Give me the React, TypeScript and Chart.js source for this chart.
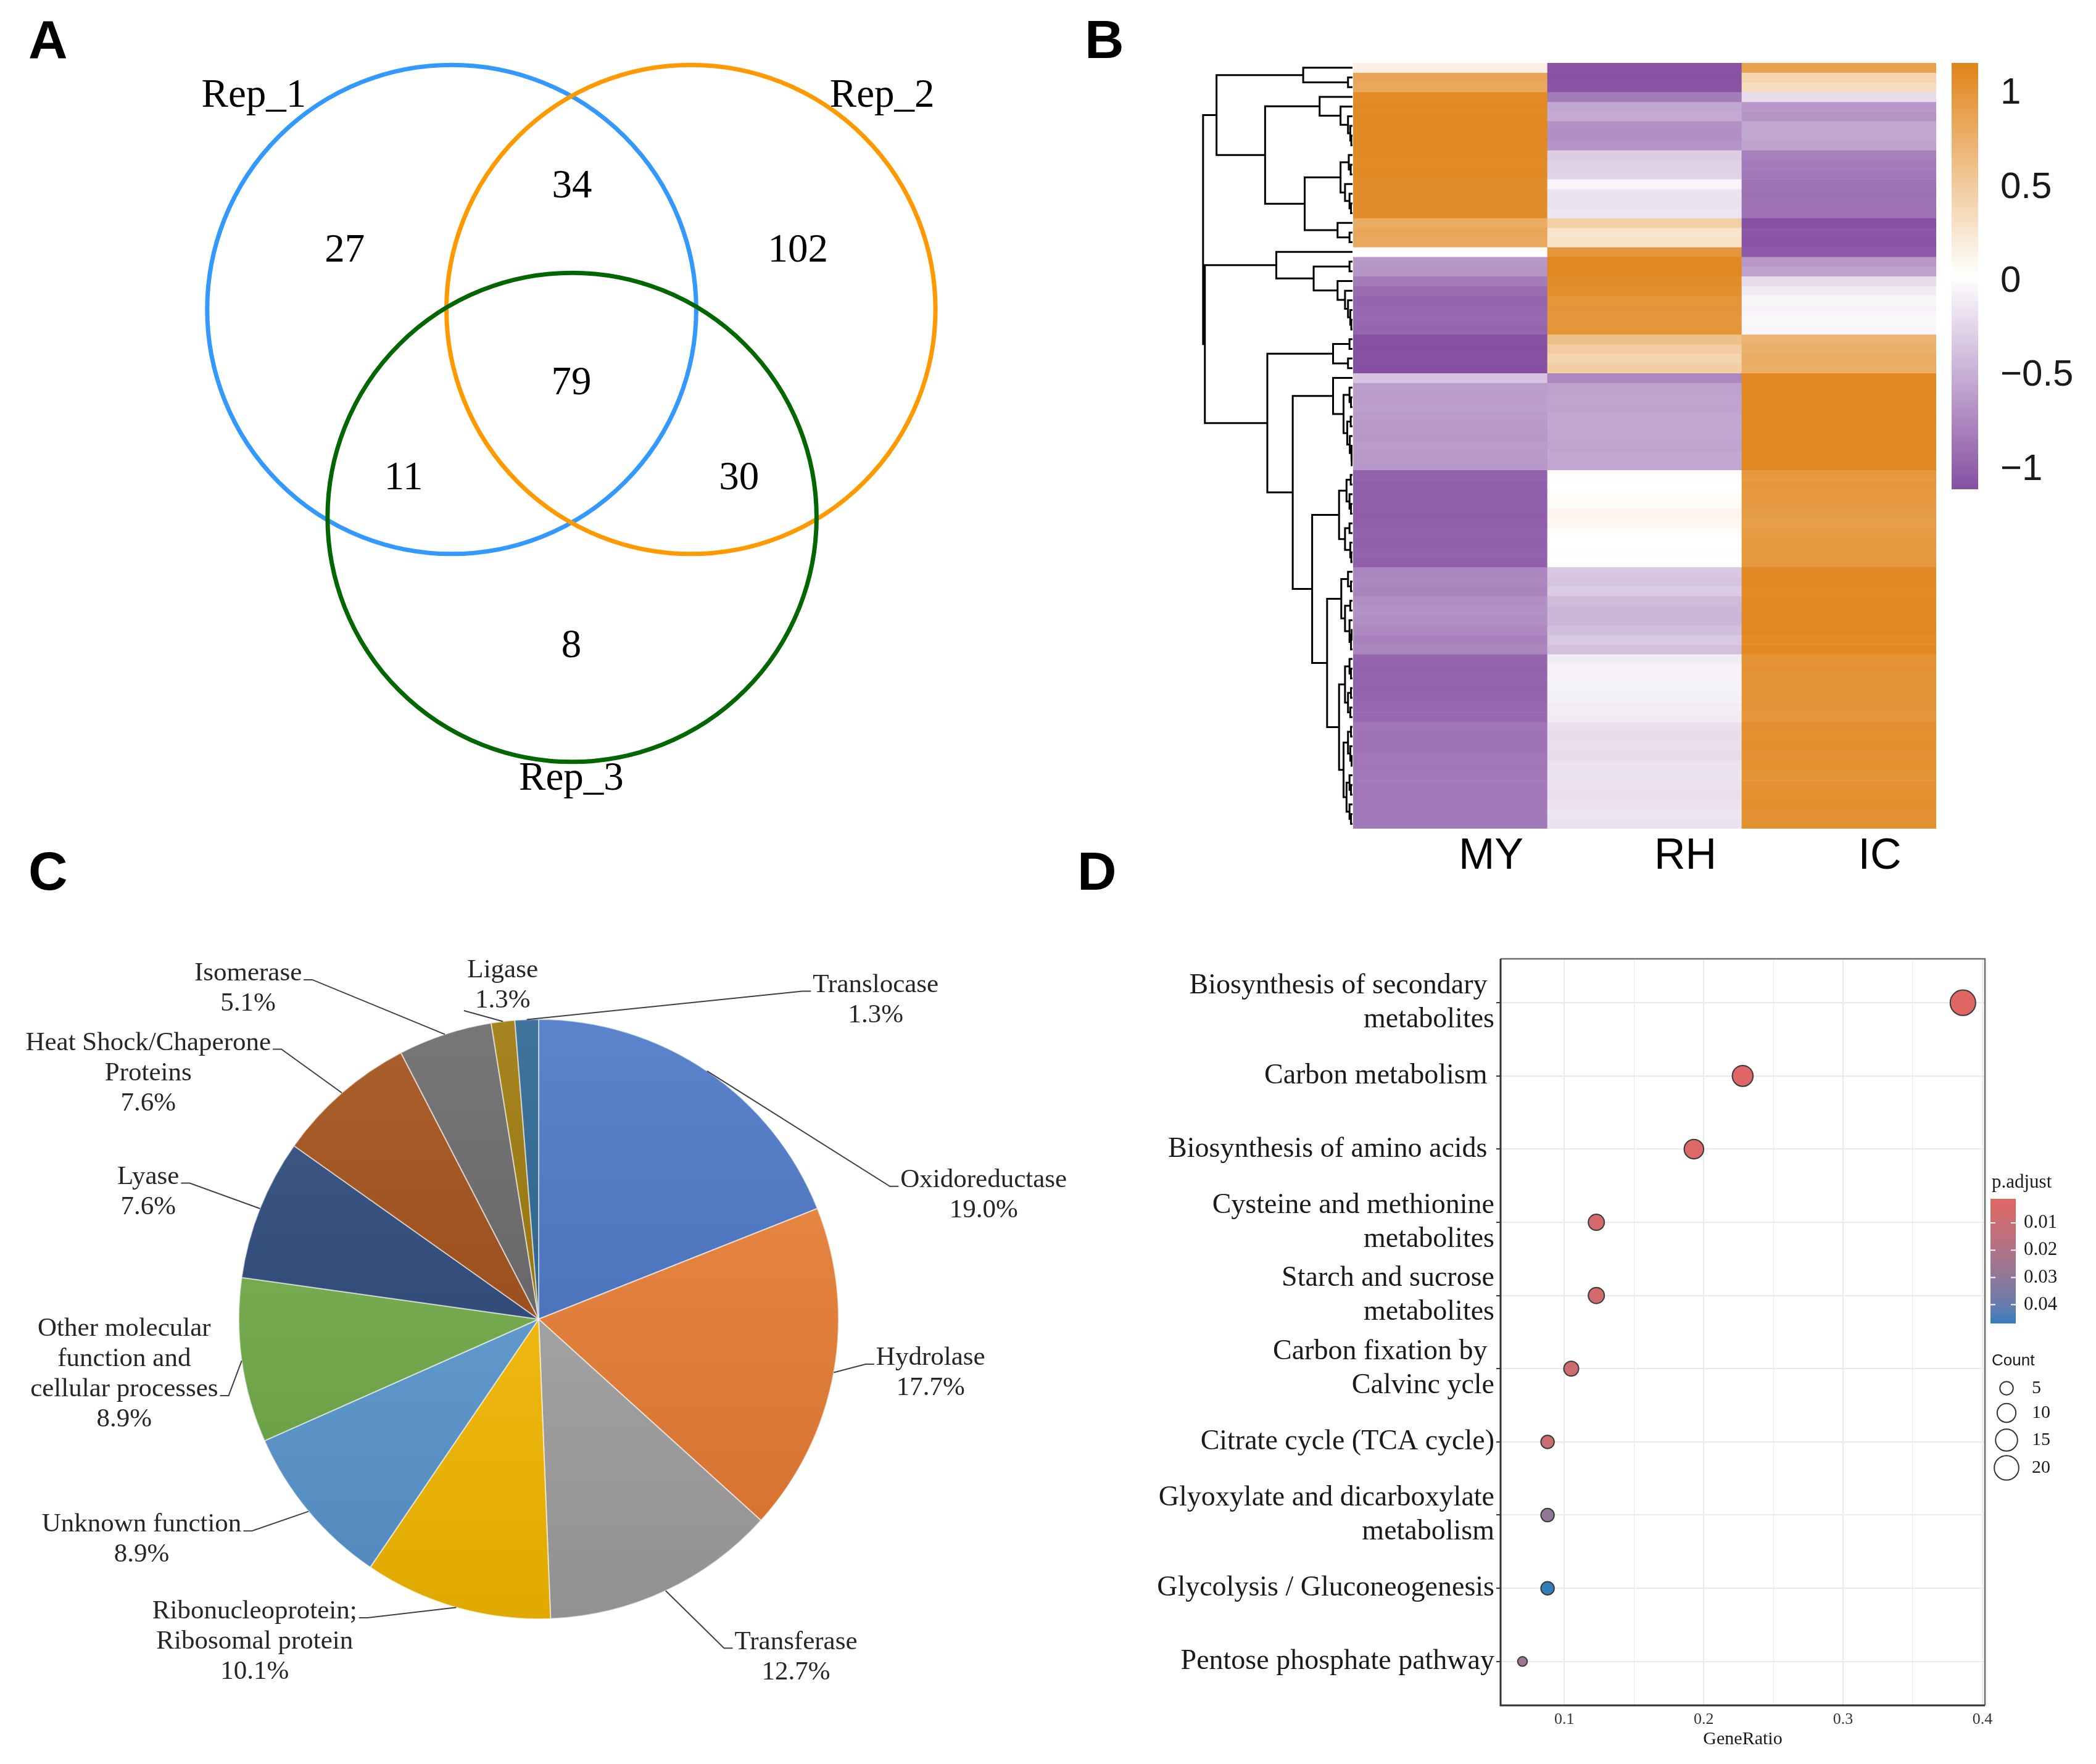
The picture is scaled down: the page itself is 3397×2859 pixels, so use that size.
import React, { useEffect, useRef } from 'react';
import { Chart, registerables } from 'chart.js';
Chart.register(...registerables);

const SERIF = '"Liberation Serif", "Times New Roman", serif';
const SANS = '"Liberation Sans", Arial, sans-serif';

// ---------------- Panel A: Venn ----------------
const vennSetNames = ['Rep_1', 'Rep_2', 'Rep_3'];
const vennCenterX = [-0.5, 0.5, 0.003];
const vennCenterY = [0, 0, -0.869];
const vennRadius = 1.022;
const vennRegionNames = ['Rep_1 only', 'Rep_1&Rep_2', 'Rep_2 only', 'All', 'Rep_1&Rep_3', 'Rep_2&Rep_3', 'Rep_3 only'];
const vennRegionCounts = [27, 34, 102, 79, 11, 30, 8];
// label layout (data units)
const vennRegionPos = [[-0.947, 0.243], [0.003, 0.511], [0.947, 0.243], [0, -0.31], [-0.701, -0.707], [0.701, -0.707], [0, -1.41]];
const vennSetLabelPos = [[-1.327, 0.891], [1.299, 0.891], [0, -1.963]];
const vennColors = ['#3399FF', '#FF9900', '#006600'];

// ---------------- Panel B: heatmap ----------------
const heatColumns = ['MY', 'RH', 'IC'];
const myValues = [
  0.17, 0.86, 0.83, 1.10, 1.12, 1.12, 1.13, 1.12, 1.11, 1.12,
  1.10, 1.11, 1.08, 1.09, 1.08, 1.09, 0.80, 0.85, 0.83, 0.02,
  -0.64, -0.66, -0.82, -0.92, -0.96, -0.95, -0.94, -0.96, -1.10, -1.12,
  -1.10, -1.11, -0.35, -0.60, -0.61, -0.60, -0.62, -0.63, -0.64, -0.62,
  -0.63, -0.64, -0.99, -1.00, -1.01, -1.00, -1.02, -1.01, -0.99, -1.00,
  -0.98, -1.00, -0.76, -0.74, -0.77, -0.70, -0.68, -0.70, -0.73, -0.78,
  -0.75, -0.96, -0.98, -0.97, -0.98, -0.96, -0.95, -0.95, -0.86, -0.87,
  -0.88, -0.85, -0.86, -0.84, -0.83, -0.85, -0.84, -0.83, -0.84,
];
const rhValues = [
  -1.08, -1.09, -1.08, -0.82, -0.55, -0.52, -0.69, -0.70, -0.67, -0.30,
  -0.27, -0.26, -0.04, -0.15, -0.16, -0.14, 0.47, 0.27, 0.30, 1.00,
  1.12, 1.13, 1.08, 1.06, 1.00, 1.01, 0.99, 1.00, 0.61, 0.50,
  0.42, 0.48, -0.74, -0.58, -0.56, -0.57, -0.55, -0.54, -0.55, -0.56,
  -0.54, -0.55, 0.05, 0.03, 0.04, 0.07, 0.12, 0.09, 0.05, 0.03,
  0.04, 0.03, -0.33, -0.36, -0.31, -0.42, -0.44, -0.45, -0.40, -0.33,
  -0.38, -0.10, -0.06, -0.05, -0.06, -0.07, -0.09, -0.10, -0.18, -0.19,
  -0.18, -0.20, -0.16, -0.15, -0.17, -0.18, -0.15, -0.14, -0.16,
];
const icValues = [
  0.90, 0.42, 0.35, -0.20, -0.64, -0.66, -0.55, -0.54, -0.57, -0.80,
  -0.82, -0.84, -0.88, -0.90, -0.88, -0.89, -1.10, -1.06, -1.08, -1.05,
  -0.64, -0.58, -0.20, -0.10, -0.03, -0.05, -0.02, -0.03, 0.72, 0.76,
  0.80, 0.78, 1.12, 1.13, 1.12, 1.12, 1.13, 1.12, 1.12, 1.13,
  1.12, 1.11, 0.98, 0.99, 0.98, 0.96, 0.93, 0.92, 0.95, 0.98,
  0.97, 0.98, 1.11, 1.12, 1.10, 1.12, 1.11, 1.12, 1.13, 1.10,
  1.12, 1.02, 1.04, 1.02, 1.03, 1.01, 1.02, 1.00, 1.06, 1.05,
  1.06, 1.04, 1.05, 1.03, 1.04, 1.05, 1.06, 1.04, 1.05,
];
const heatMin = -1.105;
const heatMax = 1.164;
const heatTicks = [-1, -0.5, 0, 0.5, 1];
type TreeNode = number | [number, TreeNode, TreeNode];
const dendroTree: TreeNode = [1.0,
  [0.91,
    [0.33, 0, [0.03, 1, 2]],
    [0.585,
      [0.22, 3, [0.08, 4, [0.03, 5, [0.015, 6, [0.008, 7, 8]]]]],
      [0.32,
        [0.08, [0.025, 9, [0.012, 10, 11]], [0.05, 12, [0.02, 13, [0.01, 14, 15]]]],
        [0.1, 16, [0.02, 17, 18]]]]],
  [0.988,
    [0.51, 19, [0.26, [0.02, 20, 21], [0.1, 22, [0.05, 23, [0.03, 24, [0.015, 25, [0.008, 26, 27]]]]]]],
    [0.57,
      [0.13, [0.02, 28, 29], [0.03, 30, 31]],
      [0.4,
        [0.13, 32, [0.06, [0.02, 33, [0.01, 34, 35]], [0.035, [0.012, 36, 37], [0.018, 38, [0.008, 39, [0.005, 40, 41]]]]]],
        [0.27,
          [0.09, [0.04, [0.012, 42, 43], [0.02, 44, [0.01, 45, 46]]], [0.05, [0.02, 47, 48], [0.015, 49, [0.008, 50, 51]]]],
          [0.17,
            [0.075, [0.03, 52, [0.01, 53, 54]], [0.05, [0.015, 55, 56], [0.02, 57, [0.01, [0.005, 58, 59], 60]]]],
            [0.09,
              [0.05, [0.02, 61, [0.01, 62, 63]], [0.03, [0.01, 64, 65], [0.015, 66, 67]]],
              [0.06, [0.03, [0.01, 68, 69], [0.015, 70, [0.006, 71, 72]]], [0.04, [0.02, 73, [0.01, 74, 75]], [0.02, 76, [0.01, 77, 78]]]]]]]]]]];

// ---------------- Panel C: pie ----------------
const pieCategories = [
  'Oxidoreductase', 'Hydrolase', 'Transferase', 'Ribonucleoprotein;\nRibosomal protein', 'Unknown function',
  'Other molecular\nfunction and\ncellular processes', 'Lyase', 'Heat Shock/Chaperone\nProteins', 'Isomerase', 'Ligase', 'Translocase',
];
const pieCounts = [15, 14, 10, 8, 7, 7, 6, 6, 4, 1, 1];
const pieColors = ['#4472C4', '#ED7D31', '#A5A5A5', '#FFC000', '#5B9BD5', '#70AD47', '#264478', '#9E480E', '#636363', '#997300', '#255E91'];
// label layout: [x, y] of label centre in pie radii, index of line the leader attaches to
const pieLabelLayout = [
  [1.484, -0.413, 0], [1.307, 0.18, 0], [0.858, 1.127, 0], [-0.947, 1.076, 0], [-1.324, 0.736, 0],
  [-1.382, 0.184, 2], [-1.302, -0.424, 0], [-1.302, -0.82, 0], [-0.969, -1.102, 0], [-0.12, -1.113, 1], [1.124, -1.064, 0],
];

// ---------------- Panel D: enrichment dot plot ----------------
const pathwayLabels: (string | string[])[] = [
  ['Biosynthesis of secondary ', 'metabolites'],
  'Carbon metabolism ',
  'Biosynthesis of amino acids ',
  ['Cysteine and methionine', 'metabolites'],
  ['Starch and sucrose', 'metabolites'],
  ['Carbon fixation by ', 'Calvinc ycle'],
  'Citrate cycle (TCA cycle)',
  ['Glyoxylate and dicarboxylate', 'metabolism'],
  'Glycolysis / Gluconeogenesis',
  'Pentose phosphate pathway',
];
const geneRatio = [0.386, 0.228, 0.193, 0.123, 0.123, 0.105, 0.088, 0.088, 0.088, 0.070];
const geneCount = [22, 13, 11, 7, 7, 6, 5, 5, 5, 4];
const pAdjust = [0.0012, 0.0016, 0.003, 0.006, 0.0065, 0.008, 0.01, 0.029, 0.0469, 0.026];
const pAdjustMin = 0.00115;
const pAdjustMax = 0.0469;
const pAdjustTicks = [0.01, 0.02, 0.03, 0.04];
const countLegend = [5, 10, 15, 20];
const xGridValues = [0.1, 0.15, 0.2, 0.25, 0.3, 0.35, 0.4];

// ---------------- helpers ----------------
type RGB = [number, number, number];
function hex(h: string): RGB {
  const n = parseInt(h.slice(1), 16);
  return [(n >> 16) & 255, (n >> 8) & 255, n & 255];
}
function mix(a: RGB, b: RGB, t: number): RGB {
  return [a[0] + (b[0] - a[0]) * t, a[1] + (b[1] - a[1]) * t, a[2] + (b[2] - a[2]) * t];
}
function css(c: RGB): string {
  return `rgb(${Math.round(c[0])},${Math.round(c[1])},${Math.round(c[2])})`;
}
const heatLow: RGB = [134, 80, 162];
const heatHigh: RGB = [224, 132, 26];
const WHITE: RGB = [255, 255, 255];
function heatColor(v: number): string {
  const mid = (heatMin + heatMax) / 2;
  if (v <= mid) return css(mix(heatLow, WHITE, Math.max(0, (v - heatMin) / (mid - heatMin))));
  return css(mix(WHITE, heatHigh, Math.min(1, (v - mid) / (heatMax - mid))));
}
function toLin(c: number) { c /= 255; return c <= 0.04045 ? c / 12.92 : Math.pow((c + 0.055) / 1.055, 2.4); }
function fromLin(c: number) { const v = c <= 0.0031308 ? 12.92 * c : 1.055 * Math.pow(c, 1 / 2.4) - 0.055; return Math.max(0, Math.min(255, v * 255)); }
function rgbToLab(c: RGB): RGB {
  const R = toLin(c[0]), G = toLin(c[1]), B = toLin(c[2]);
  const X = (0.4124 * R + 0.3576 * G + 0.1805 * B) / 0.95047;
  const Y = 0.2126 * R + 0.7152 * G + 0.0722 * B;
  const Z = (0.0193 * R + 0.1192 * G + 0.9505 * B) / 1.08883;
  const f = (t: number) => (t > 0.008856 ? Math.cbrt(t) : 7.787 * t + 16 / 116);
  const fx = f(X), fy = f(Y), fz = f(Z);
  return [116 * fy - 16, 500 * (fx - fy), 200 * (fy - fz)];
}
function labToRgb(l: RGB): RGB {
  const fy = (l[0] + 16) / 116, fx = fy + l[1] / 500, fz = fy - l[2] / 200;
  const fi = (t: number) => (t * t * t > 0.008856 ? t * t * t : (t - 16 / 116) / 7.787);
  const X = fi(fx) * 0.95047, Y = fi(fy), Z = fi(fz) * 1.08883;
  return [
    fromLin(3.2406 * X - 1.5372 * Y - 0.4986 * Z),
    fromLin(-0.9689 * X + 1.8758 * Y + 0.0415 * Z),
    fromLin(0.0557 * X - 0.204 * Y + 1.057 * Z),
  ];
}
const pLowLab = rgbToLab(hex('#e06663'));
const pHighLab = rgbToLab(hex('#327eba'));
function pColor(p: number): string {
  const t = Math.max(0, Math.min(1, (p - pAdjustMin) / (pAdjustMax - pAdjustMin)));
  return css(labToRgb(mix(pLowLab, pHighLab, t)));
}
const DOT_RMAX = 20.6;
function dotRadius(count: number): number {
  const lo = Math.min(...geneCount), hi = Math.max(...geneCount);
  const t = Math.max(0, (count - lo) / (hi - lo));
  return (DOT_RMAX * (3 + 5 * Math.sqrt(t))) / 8;
}
function buildDendro(node: TreeNode, pts: { x: number; y: number }[]): { y: number; h: number } {
  if (typeof node === 'number') return { y: node, h: 0 };
  const [h, a, b] = node;
  const L = buildDendro(a, pts);
  const R = buildDendro(b, pts);
  pts.push({ x: L.h, y: L.y }, { x: h, y: L.y }, { x: h, y: R.y }, { x: R.h, y: R.y }, { x: NaN, y: NaN });
  return { y: (L.y + R.y) / 2, h };
}

const base: any = {
  responsive: false,
  animation: false,
  devicePixelRatio: 1,
  events: [],
  plugins: { legend: { display: false }, tooltip: { enabled: false }, title: { display: false } },
};

// ---------------- plugins ----------------
const vennTextPlugin = {
  id: 'vennText',
  afterDatasetsDraw(chart: any) {
    const { ctx, scales } = chart;
    ctx.save();
    ctx.fillStyle = '#000';
    ctx.font = `65px ${SERIF}`;
    ctx.textAlign = 'center';
    ctx.textBaseline = 'middle';
    vennRegionCounts.forEach((n, i) => {
      ctx.fillText(String(n), scales.x.getPixelForValue(vennRegionPos[i][0]), scales.y.getPixelForValue(vennRegionPos[i][1]));
    });
    vennSetNames.forEach((n, i) => {
      ctx.fillText(n, scales.x.getPixelForValue(vennSetLabelPos[i][0]), scales.y.getPixelForValue(vennSetLabelPos[i][1]));
    });
    ctx.restore();
  },
};

const pieLabelPlugin = {
  id: 'pieLabels',
  afterDatasetsDraw(chart: any) {
    const { ctx } = chart;
    const meta = chart.getDatasetMeta(0);
    const total = pieCounts.reduce((s, v) => s + v, 0);
    const lh = 49;
    ctx.save();
    ctx.font = `43px ${SERIF}`;
    ctx.fillStyle = '#262626';
    ctx.strokeStyle = '#404040';
    ctx.lineWidth = 2;
    ctx.textAlign = 'center';
    ctx.textBaseline = 'middle';
    meta.data.forEach((arc: any, i: number) => {
      const p = arc.getProps(['x', 'y', 'startAngle', 'endAngle', 'outerRadius'], true);
      const mid = (p.startAngle + p.endAngle) / 2;
      const px = p.x + Math.cos(mid) * p.outerRadius;
      const py = p.y + Math.sin(mid) * p.outerRadius;
      const lines = [...pieCategories[i].split('\n'), ((pieCounts[i] / total) * 100).toFixed(1) + '%'];
      const [lx, ly, attach] = pieLabelLayout[i];
      const cx = p.x + lx * p.outerRadius;
      const cy = p.y + ly * p.outerRadius;
      const top = cy - (lines.length * lh) / 2;
      const bottom = top + lines.length * lh;
      lines.forEach((l, k) => ctx.fillText(l, cx, top + lh * (k + 0.5)));
      const w = ctx.measureText(lines[attach]).width;
      const yAttach = top + lh * (attach + 0.5) + 10;
      ctx.beginPath();
      if (px < cx - w / 2) {
        const qx = cx - w / 2 - 3;
        ctx.moveTo(qx, yAttach);
        ctx.lineTo(qx - 14, yAttach);
        ctx.lineTo(px, py);
      } else if (px > cx + w / 2) {
        const qx = cx + w / 2 + 3;
        ctx.moveTo(qx, yAttach);
        ctx.lineTo(qx + 14, yAttach);
        ctx.lineTo(px, py);
      } else if (py > bottom) {
        ctx.moveTo(cx - w / 2 - 18, bottom - 8);
        ctx.lineTo(px, py);
      } else {
        ctx.moveTo(px, top);
        ctx.lineTo(px, py);
      }
      ctx.stroke();
    });
    ctx.restore();
  },
};

const dotFramePlugin = {
  id: 'dotFrame',
  beforeDatasetsDraw(chart: any) {
    const { ctx, chartArea: a } = chart;
    ctx.save();
    ctx.strokeStyle = '#6e6e6e';
    ctx.lineWidth = 2.5;
    ctx.beginPath();
    ctx.moveTo(a.left, a.top);
    ctx.lineTo(a.right, a.top);
    ctx.lineTo(a.right, a.bottom);
    ctx.stroke();
    ctx.strokeStyle = '#333';
    ctx.lineWidth = 3;
    ctx.beginPath();
    ctx.moveTo(a.left, a.top);
    ctx.lineTo(a.left, a.bottom);
    ctx.lineTo(a.right, a.bottom);
    ctx.stroke();
    ctx.restore();
  },
  afterDraw(chart: any) {
    const { ctx, chartArea: a } = chart;
    const L = a.right + 11;
    const T = a.top;
    ctx.save();
    ctx.textAlign = 'left';
    ctx.textBaseline = 'middle';
    ctx.fillStyle = '#1a1a1a';
    ctx.font = `31px ${SERIF}`;
    ctx.fillText('p.adjust', L, T + 363);
    const bt = T + 389, bb = T + 591, bx = L - 2, bw = 41;
    const g = ctx.createLinearGradient(0, bt, 0, bb);
    for (let k = 0; k <= 12; k++) {
      g.addColorStop(k / 12, pColor(pAdjustMin + ((pAdjustMax - pAdjustMin) * k) / 12));
    }
    ctx.fillStyle = g;
    ctx.fillRect(bx, bt, bw, bb - bt);
    ctx.strokeStyle = '#ffffff';
    ctx.lineWidth = 2;
    ctx.fillStyle = '#1a1a1a';
    pAdjustTicks.forEach((pv) => {
      const yy = bt + ((pv - pAdjustMin) / (pAdjustMax - pAdjustMin)) * (bb - bt);
      ctx.beginPath();
      ctx.moveTo(bx, yy); ctx.lineTo(bx + 8, yy);
      ctx.moveTo(bx + bw - 8, yy); ctx.lineTo(bx + bw, yy);
      ctx.stroke();
      ctx.fillText(String(pv), L + 52, yy);
    });
    ctx.font = `26px ${SANS}`;
    ctx.fillText('Count', L, T + 652);
    const cys = [T + 696, T + 736, T + 780, T + 825];
    countLegend.forEach((c, k) => {
      ctx.beginPath();
      ctx.strokeStyle = '#333';
      ctx.lineWidth = 2;
      ctx.arc(L + 24, cys[k], dotRadius(c), 0, Math.PI * 2);
      ctx.stroke();
      ctx.font = `30px ${SERIF}`;
      ctx.fillText(String(c), L + 65, cys[k]);
    });
    ctx.restore();
  },
};

function Letter({ ch, left, top }: { ch: string; left: number; top: number }) {
  return (
    <div style={{ position: 'absolute', left, top, font: `bold 88px ${SANS}`, lineHeight: '88px', color: '#000' }}>{ch}</div>
  );
}

export default function App() {
  const refA = useRef<HTMLCanvasElement>(null);
  const refDen = useRef<HTMLCanvasElement>(null);
  const refHeat = useRef<HTMLCanvasElement>(null);
  const refBar = useRef<HTMLCanvasElement>(null);
  const refPie = useRef<HTMLCanvasElement>(null);
  const refDot = useRef<HTMLCanvasElement>(null);

  useEffect(() => {
    Chart.defaults.font.family = SANS;
    const charts: Chart[] = [];

    // A: Venn
    charts.push(new Chart(refA.current!, {
      type: 'scatter',
      data: {
        datasets: [{
          data: vennCenterX.map((x, i) => ({ x, y: vennCenterY[i] })),
          pointRadius: (c: any) => {
            const s = c.chart.scales.x;
            return s ? Math.abs(s.getPixelForValue(vennRadius) - s.getPixelForValue(0)) : 0;
          },
          pointBackgroundColor: 'rgba(0,0,0,0)',
          pointBorderColor: vennColors,
          pointBorderWidth: 7,
        }],
      },
      options: {
        ...base,
        layout: { padding: 0 },
        clip: false,
        scales: {
          x: { type: 'linear', display: false, min: -2.388, max: 2.151 },
          y: { type: 'linear', display: false, min: -2.136, max: 1.293 },
        },
      } as any,
      plugins: [vennTextPlugin],
    }));

    // B: dendrogram
    const pts: { x: number; y: number }[] = [];
    buildDendro(dendroTree, pts);
    charts.push(new Chart(refDen.current!, {
      type: 'scatter',
      data: {
        datasets: [{
          data: pts,
          showLine: true,
          spanGaps: false,
          pointRadius: 0,
          borderColor: '#000',
          borderWidth: 3,
          borderCapStyle: 'square',
          borderJoinStyle: 'miter',
        }],
      },
      options: {
        ...base,
        layout: { padding: 0 },
        clip: false,
        scales: {
          x: { type: 'linear', display: false, min: 0, max: 1.02, reverse: true },
          y: { type: 'linear', display: false, min: -0.5, max: myValues.length - 0.5, reverse: true },
        },
      } as any,
    }));

    // B: heatmap
    charts.push(new Chart(refHeat.current!, {
      type: 'bar',
      data: {
        labels: heatColumns,
        datasets: myValues.map((_, i) => ({
          label: `row ${i + 1}`,
          data: heatColumns.map(() => 1),
          backgroundColor: [heatColor(myValues[i]), heatColor(rhValues[i]), heatColor(icValues[i])],
          borderWidth: 0,
          barPercentage: 1,
          categoryPercentage: 1,
        })),
      },
      options: {
        ...base,
        layout: { padding: 0 },
        scales: {
          x: {
            stacked: true,
            grid: { display: false, drawTicks: false },
            border: { display: false },
            ticks: { color: '#000', font: { family: SANS, size: 70 }, padding: 4, labelOffset: 66, maxRotation: 0 },
            afterFit: (s: any) => { s.height = 100; },
          },
          y: { stacked: true, display: false, min: 0, max: myValues.length, reverse: true },
        },
      } as any,
    }));

    // B: colour key
    charts.push(new Chart(refBar.current!, {
      type: 'bar',
      data: {
        labels: [''],
        datasets: [{
          data: [[heatMin, heatMax]],
          barPercentage: 1,
          categoryPercentage: 1,
          borderWidth: 0,
          backgroundColor: (c: any) => {
            const ch = c.chart;
            const ys = ch.scales.y;
            if (!ys || !ch.chartArea) return '#fff';
            const y0 = ys.getPixelForValue(heatMax), y1 = ys.getPixelForValue(heatMin);
            const g = ch.ctx.createLinearGradient(0, y0, 0, y1);
            for (let k = 0; k <= 24; k++) g.addColorStop(k / 24, heatColor(heatMax - ((heatMax - heatMin) * k) / 24));
            return g;
          },
        }],
      },
      options: {
        ...base,
        layout: { padding: { top: 80, bottom: 80, left: 0, right: 0 } },
        scales: {
          x: { display: false },
          y: {
            position: 'right',
            min: heatMin,
            max: heatMax,
            grid: { display: false, drawTicks: false },
            border: { display: false },
            afterBuildTicks: (s: any) => { s.ticks = heatTicks.map((v) => ({ value: v })); },
            ticks: {
              color: '#1a1a1a',
              font: { family: SANS, size: 60 },
              padding: 36,
              callback: (v: any) => (v < 0 ? '\u2212' + Math.abs(v) : String(v)),
            },
            afterFit: (s: any) => { s.width = 191; },
          },
        },
      } as any,
    }));

    // C: pie
    charts.push(new Chart(refPie.current!, {
      type: 'pie',
      data: {
        labels: pieCategories.map((c) => c.replace(/\n/g, ' ')),
        datasets: [{
          data: pieCounts,
          borderColor: 'rgba(255,255,255,0.55)',
          borderWidth: 2,
          backgroundColor: (c: any) => {
            const ch = c.chart;
            const a = ch.chartArea;
            const col = hex(pieColors[c.dataIndex] || '#888888');
            if (!a) return css(col);
            const g = ch.ctx.createLinearGradient(0, a.top, 0, a.bottom);
            g.addColorStop(0, css(mix(col, WHITE, 0.13)));
            g.addColorStop(1, css(mix(col, [0, 0, 0], 0.12)));
            return g;
          },
        }],
      },
      options: {
        ...base,
        layout: { padding: { left: 386, top: 171, right: 400, bottom: 185 } },
      } as any,
      plugins: [pieLabelPlugin],
    }));

    // D: dot plot
    charts.push(new Chart(refDot.current!, {
      type: 'scatter',
      data: {
        datasets: [{
          data: geneRatio.map((x, i) => ({ x, y: i })),
          pointRadius: (c: any) => dotRadius(geneCount[c.dataIndex]),
          pointBackgroundColor: (c: any) => pColor(pAdjust[c.dataIndex]),
          pointBorderColor: '#3a3a3a',
          pointBorderWidth: 2,
        }],
      },
      options: {
        ...base,
        layout: { padding: { top: 74, right: 180, left: 0, bottom: 0 } },
        clip: false,
        scales: {
          x: {
            type: 'linear',
            min: 0.0543,
            max: 0.4018,
            afterBuildTicks: (s: any) => { s.ticks = xGridValues.map((v) => ({ value: v })); },
            ticks: {
              autoSkip: false,
              maxRotation: 0,
              color: '#333',
              padding: 8,
              font: { family: SERIF, size: 26 },
              callback: (v: any) => (Math.round(v * 100) % 10 === 0 ? String(v) : ''),
            },
            grid: {
              color: '#EBEBEB',
              drawTicks: false,
              lineWidth: (c: any) => (c.tick && Math.round(c.tick.value * 100) % 10 === 0 ? 2.2 : 1.1),
            },
            border: { display: false },
            title: { display: true, text: 'GeneRatio', color: '#1a1a1a', font: { family: SERIF, size: 30 }, padding: { top: 0, bottom: 22 } },
            afterFit: (s: any) => { s.height = 95; },
          },
          y: {
            type: 'linear',
            min: -0.6,
            max: pathwayLabels.length - 0.4,
            reverse: true,
            afterBuildTicks: (s: any) => { s.ticks = pathwayLabels.map((_, i) => ({ value: i })); },
            ticks: {
              autoSkip: false,
              color: '#1a1a1a',
              padding: 3,
              font: { family: SERIF, size: 46, lineHeight: 1.2 },
              callback: (v: any) => pathwayLabels[v],
            },
            grid: { color: '#EBEBEB', lineWidth: 2.2, tickColor: '#333', tickLength: 7, tickWidth: 2 },
            border: { display: false },
            afterFit: (s: any) => { s.width = 632; },
          },
        },
      } as any,
      plugins: [dotFramePlugin],
    }));

    return () => charts.forEach((c) => c.destroy());
  }, []);

  const cv = (left: number, top: number, w: number, h: number) => ({
    position: 'absolute' as const, left, top, width: w, height: h,
  });

  return (
    <div style={{ position: 'absolute', left: 0, top: 0, width: 3397, height: 2859, background: '#fff', overflow: 'hidden' }}>
      <canvas ref={refA} width={1760} height={1330} style={cv(0, 0, 1760, 1330)} />
      <canvas ref={refDen} width={247} height={1241} style={cv(1945, 102, 247, 1241)} />
      <canvas ref={refHeat} width={945} height={1341} style={cv(2193, 102, 945, 1341)} />
      <canvas ref={refBar} width={234} height={851} style={cv(3163, 22, 234, 851)} />
      <canvas ref={refPie} width={1760} height={1330} style={cv(0, 1480, 1760, 1330)} />
      <canvas ref={refDot} width={1597} height={1379} style={cv(1800, 1480, 1597, 1379)} />
      <Letter ch="A" left={46} top={20} />
      <Letter ch="B" left={1758} top={20} />
      <Letter ch="C" left={46} top={1368} />
      <Letter ch="D" left={1746} top={1368} />
    </div>
  );
}
